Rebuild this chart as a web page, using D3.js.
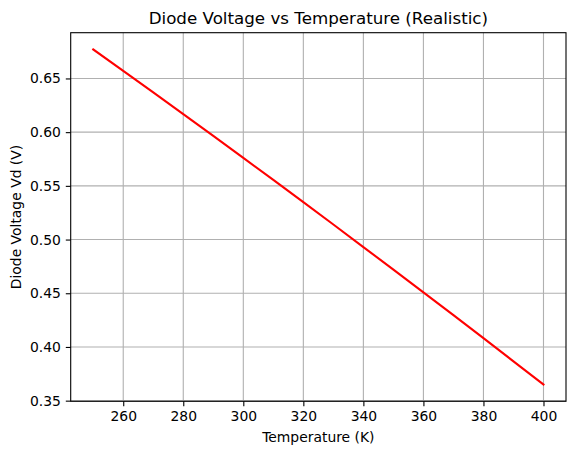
<!DOCTYPE html>
<html>
<head>
<meta charset="utf-8">
<script src="https://cdn.jsdelivr.net/npm/d3@7"></script>
<style>
  body { margin: 0; background: #fff; }
  text { font-family: "DejaVu Sans", sans-serif; }
</style>
</head>
<body>
<svg id="chart" width="576" height="455"></svg>
<script>
// temperatures (K) and diode voltage (V)
var temps = [250, 260, 270, 280, 290, 300, 310, 320, 330, 340, 350, 360, 370, 380, 390, 400];
var vd = [0.6770, 0.6571, 0.6370, 0.6168, 0.5965, 0.5761, 0.5555, 0.5348, 0.5140, 0.4930, 0.4720, 0.4508, 0.4296, 0.4082, 0.3866, 0.3650];
var xTicks = [260, 280, 300, 320, 340, 360, 380, 400];
var yTicks = [0.35, 0.40, 0.45, 0.50, 0.55, 0.60, 0.65];

var margin = { top: 32.7, right: 10, bottom: 53.7, left: 70.7 },
  w = 576 - margin.left - margin.right,
  h = 455 - margin.top - margin.bottom;

var svg = d3.select("#chart");
var g = svg.append("g").attr("transform", `translate(${margin.left}, ${margin.top})`);

// matplotlib style 5% margins
var xPad = (d3.max(temps) - d3.min(temps)) * 0.05;
var yPad = (d3.max(vd) - d3.min(vd)) * 0.05;

var x_scale = d3.scaleLinear()
  .domain([d3.min(temps) - xPad, d3.max(temps) + xPad])
  .range([0, w]);
var y_scale = d3.scaleLinear()
  .domain([d3.min(vd) - yPad, d3.max(vd) + yPad])
  .range([h, 0]);

// grid
g.append("g").attr("class", "grid")
  .selectAll("line.gx").data(xTicks).join("line")
  .attr("x1", d => x_scale(d)).attr("x2", d => x_scale(d))
  .attr("y1", 0).attr("y2", h)
  .attr("stroke", "#b0b0b0").attr("stroke-width", 1.1);
g.append("g").attr("class", "grid")
  .selectAll("line.gy").data(yTicks).join("line")
  .attr("x1", 0).attr("x2", w)
  .attr("y1", d => y_scale(d)).attr("y2", d => y_scale(d))
  .attr("stroke", "#b0b0b0").attr("stroke-width", 1.1);

// axes
var xAxis = g.append("g")
  .attr("transform", `translate(0, ${h})`)
  .call(d3.axisBottom(x_scale).tickValues(xTicks).tickSize(4.9).tickPadding(4.9).tickFormat(d3.format("d")));
var yAxis = g.append("g")
  .call(d3.axisLeft(y_scale).tickValues(yTicks).tickSize(4.9).tickPadding(4.9).tickFormat(d3.format(".2f")));

[xAxis, yAxis].forEach(function(a) {
  a.select(".domain").remove();
  a.selectAll(".tick line").attr("stroke", "#000").attr("stroke-width", 1.1);
  a.selectAll(".tick text").attr("font-size", "13.9px").attr("fill", "#000")
    .attr("font-family", "DejaVu Sans, sans-serif");
});

// line
var line = d3.line().x((d, i) => x_scale(temps[i])).y(d => y_scale(d));
g.append("path")
  .datum(vd)
  .attr("d", line)
  .attr("fill", "none")
  .attr("stroke", "#ff0000")
  .attr("stroke-width", 2.08)
  .attr("stroke-linecap", "square");

// frame
g.append("rect")
  .attr("x", 0).attr("y", 0).attr("width", w).attr("height", h)
  .attr("fill", "none").attr("stroke", "#000").attr("stroke-width", 1.1);

// labels
svg.append("text")
  .attr("x", margin.left + w / 2).attr("y", 24)
  .attr("text-anchor", "middle").attr("font-size", "16.7px")
  .text("Diode Voltage vs Temperature (Realistic)");
svg.append("text")
  .attr("x", margin.left + w / 2).attr("y", 442)
  .attr("text-anchor", "middle").attr("font-size", "13.9px")
  .text("Temperature (K)");
svg.append("text")
  .attr("transform", `translate(21, ${margin.top + h / 2}) rotate(-90)`)
  .attr("text-anchor", "middle").attr("font-size", "13.9px")
  .text("Diode Voltage Vd (V)");
</script>
</body>
</html>
